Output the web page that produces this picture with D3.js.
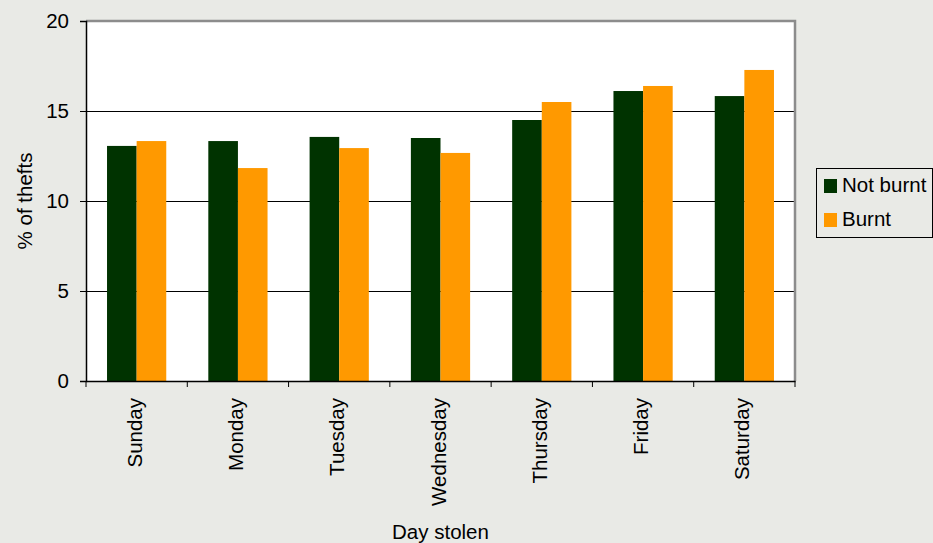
<!DOCTYPE html>
<html>
<head>
<meta charset="utf-8">
<script src="https://cdn.jsdelivr.net/npm/d3@7"></script>
<style>
  html, body { margin: 0; padding: 0; background: #e9eae6; }
  svg { display: block; font-family: "Liberation Sans", Arial, sans-serif; }
</style>
</head>
<body>
<svg id="chart" width="933" height="543"></svg>
<script>
// Share of thefts by day of week, split by whether the vehicle was burnt
const days = ["Sunday", "Monday", "Tuesday", "Wednesday", "Thursday", "Friday", "Saturday"];
const notBurnt = [13.06, 13.33, 13.56, 13.5, 14.5, 16.11, 15.83];
const burnt = [13.33, 11.83, 12.94, 12.67, 15.5, 16.39, 17.28];
const seriesNames = ["Not burnt", "Burnt"];
const seriesColors = ["#003300", "#ff9900"];
const yTicks = [0, 5, 10, 15, 20];

const FONT = 20.5;
const svg = d3.select("#chart");
const plot = { left: 86, right: 795, top: 21, bottom: 381 };

const x = d3.scaleBand().domain(days).range([plot.left, plot.right]).paddingInner(0).paddingOuter(0);
const xInner = d3.scaleBand().domain(seriesNames).range([0, x.bandwidth()]).paddingInner(0).paddingOuter(0.71);
const y = d3.scaleLinear().domain([0, 20]).range([plot.bottom, plot.top]);

// plot area background
svg.append("rect")
  .attr("x", plot.left).attr("y", plot.top)
  .attr("width", plot.right - plot.left).attr("height", plot.bottom - plot.top)
  .attr("fill", "#ffffff");

// horizontal gridlines
svg.append("g").selectAll("line")
  .data(yTicks.filter(t => t > 0 && t < 20))
  .join("line")
  .attr("x1", plot.left).attr("x2", plot.right)
  .attr("y1", d => Math.round(y(d)) + 0.5).attr("y2", d => Math.round(y(d)) + 0.5)
  .attr("stroke", "#000").attr("stroke-width", 1);

// bars
const rows = days.map((d, i) => ({ day: d, values: [notBurnt[i], burnt[i]] }));
const groups = svg.append("g").selectAll("g")
  .data(rows).join("g")
  .attr("transform", d => `translate(${x(d.day)},0)`);
groups.selectAll("rect")
  .data(d => d.values.map((v, j) => ({ name: seriesNames[j], value: v, color: seriesColors[j] })))
  .join("rect")
  .attr("x", d => xInner(d.name))
  .attr("width", xInner.bandwidth())
  .attr("y", d => y(d.value))
  .attr("height", d => y(0) - y(d.value))
  .attr("fill", d => d.color);

// top and right frame of plot area
svg.append("path")
  .attr("d", `M${plot.left},${plot.top} H${plot.right} V${plot.bottom}`)
  .attr("fill", "none").attr("stroke", "#8c8c8c").attr("stroke-width", 2.5);

// y axis
const yAxis = svg.append("g")
  .attr("transform", `translate(${plot.left},0)`)
  .call(d3.axisLeft(y).tickValues(yTicks).tickSize(6).tickPadding(11).tickFormat(d3.format("d")));
yAxis.select(".domain").attr("stroke", "#000").attr("stroke-width", 1.5);
yAxis.selectAll(".tick line").attr("stroke", "#000");
yAxis.selectAll(".tick text").attr("font-size", FONT).attr("fill", "#000")
  .attr("font-family", "Liberation Sans, Arial, sans-serif");

// x axis with boundary ticks between categories
const xAxis = svg.append("g")
  .attr("transform", `translate(0,${plot.bottom})`)
  .call(d3.axisBottom(x).tickSize(0).tickFormat(""));
xAxis.select(".domain").attr("stroke", "#000").attr("stroke-width", 1.5);
const bounds = days.map(d => x(d)).concat([x(days[days.length - 1]) + x.bandwidth()]);
xAxis.append("g").selectAll("line").data(bounds).join("line")
  .attr("x1", d => d).attr("x2", d => d)
  .attr("y1", 0).attr("y2", 6)
  .attr("stroke", "#000").attr("stroke-width", 1);

// rotated category labels
svg.append("g").selectAll("text")
  .data(days).join("text")
  .attr("transform", d => `translate(${x(d) + x.bandwidth() / 2 + 5},${plot.bottom + 17}) rotate(-90)`)
  .attr("text-anchor", "end")
  .attr("font-size", FONT)
  .attr("fill", "#000")
  .text(d => d);

// axis titles
svg.append("text")
  .attr("transform", `translate(32,201) rotate(-90)`)
  .attr("text-anchor", "middle")
  .attr("font-size", FONT).attr("fill", "#000")
  .text("% of thefts");

svg.append("text")
  .attr("x", 440.5).attr("y", 539)
  .attr("text-anchor", "middle")
  .attr("font-size", FONT).attr("fill", "#000")
  .text("Day stolen");

// legend
const legend = svg.append("g").attr("transform", "translate(816,168)");
legend.append("rect")
  .attr("x", 0.5).attr("y", 0.5).attr("width", 116).attr("height", 69)
  .attr("fill", "#e9eae6").attr("stroke", "#000").attr("stroke-width", 1);
const items = legend.selectAll("g.item")
  .data(seriesNames).join("g")
  .attr("class", "item")
  .attr("transform", (d, i) => `translate(8,${11 + i * 34})`);
items.append("rect")
  .attr("width", 13).attr("height", 14)
  .attr("fill", (d, i) => seriesColors[i]);
items.append("text")
  .attr("x", 18).attr("y", 13)
  .attr("font-size", FONT).attr("fill", "#000")
  .text(d => d);
</script>
</body>
</html>
